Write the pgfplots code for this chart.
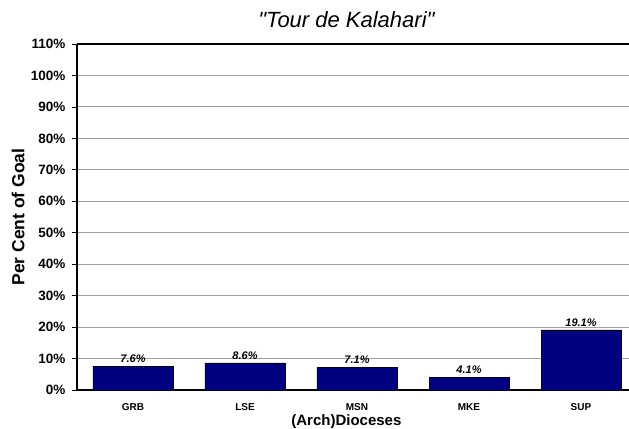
\documentclass[border=0pt]{standalone}
\usepackage{pgfplots}
\pgfplotsset{compat=1.18}
\usepackage{fontspec}
\setmainfont{Liberation Sans}
\newfontfamily\plainfont{Liberation Sans}
\definecolor{barnavy}{HTML}{000080}
\begin{document}
\begin{tikzpicture}
\begin{axis}[
  at={(0,0)}, anchor=south west,
  scale only axis,
  width=552bp, height=346bp,
  xmin=-0.5, xmax=4.4286,
  ymin=0, ymax=110,
  axis x line*=box, axis y line*=left,
  axis line style={line width=2.6bp, black},
  ytick={0,10,...,110},
  yticklabel={\pgfmathprintnumber{\tick}\%},
  yticklabel style={font=\fontsize{13.5bp}{15bp}\selectfont\bfseries, xshift=-3bp},
  ytick style={black, line width=0.8bp},
  tick align=outside,
  major tick length=5bp,
  xtick={0,1,2,3,4},
  xticklabels={GRB,LSE,MSN,MKE,SUP},
  xtick style={draw=none},
  xticklabel style={font=\fontsize{10bp}{12bp}\selectfont\bfseries, yshift=-5bp},
  extra x ticks={0.5,1.5,2.5,3.5},
  extra x tick labels={},
  extra x tick style={grid=none, tick style={black, line width=0.8bp, draw=black}, major tick length=4bp},
  ymajorgrids,
  grid style={gray!75, line width=1bp},
  /pgf/number format/assume math mode=true,
  ybar, bar width=80bp,
  nodes near coords={\pgfmathprintnumber[fixed,precision=1,fixed zerofill]{\pgfplotspointmeta}\%},
  nodes near coords style={font=\fontsize{11bp}{13bp}\selectfont\bfseries\itshape},
  title={\plainfont\itshape "Tour de Kalahari"},
  title style={font=\fontsize{22bp}{24bp}\selectfont, at={(rel axis cs:0.488,1)}, anchor=center, yshift=18bp},
  xlabel={(Arch)Dioceses},
  xlabel style={font=\fontsize{15bp}{17bp}\selectfont\bfseries, at={(rel axis cs:0.488,0)}, anchor=center, yshift=-32bp},
  ylabel={Per Cent of Goal},
  ylabel style={font=\fontsize{17.5bp}{19bp}\selectfont\bfseries, at={(rel axis cs:0,0.5)}, anchor=center, yshift=59bp},
  clip=false,
]
\addplot[fill=barnavy, draw=black, line width=0.6bp] coordinates {(0,7.6) (1,8.6) (2,7.1) (3,4.1) (4,19.1)};
\end{axis}
\pgfresetboundingbox
\path[use as bounding box] (-77bp,-39bp) rectangle (552bp,390bp);
\end{tikzpicture}
\end{document}
